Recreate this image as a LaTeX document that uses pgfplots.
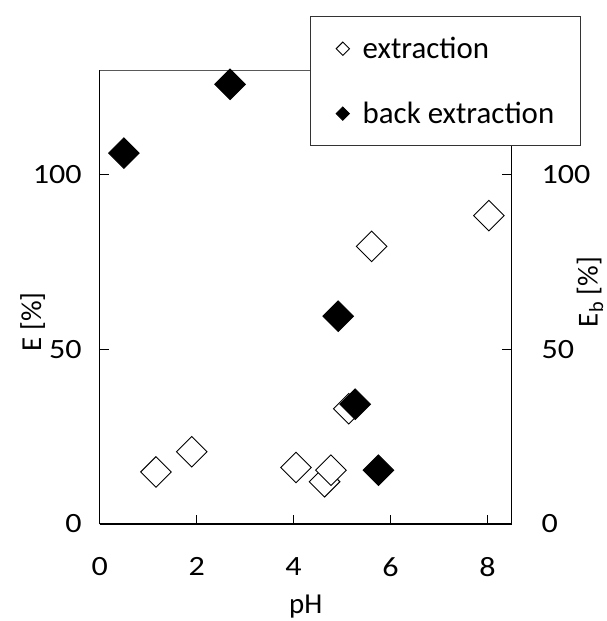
\documentclass[border=0pt]{standalone}
\usepackage{fontspec}
\setmainfont{Carlito}
\newfontfamily\tickfont[FakeStretch=1.15]{Carlito}
\usepackage{pgfplots}
\pgfplotsset{compat=1.18}
\begin{document}
\begin{tikzpicture}
\useasboundingbox (-99.7bp,-97bp) rectangle (507.3bp,524bp);
\pgfplotsset{
  common/.style={
    scale only axis, width=412bp, height=454bp,
    xmin=0, xmax=8.5, ymin=0, ymax=130,
    tick align=inside, major tick length=9.5bp,
    /pgf/number format/assume math mode=true,
    tick style={black, line width=0.9bp},
    axis line style={black, line width=1.3bp},
    ytick={0,50,100},
  }
}
\begin{axis}[common,
  at={(0,0)}, anchor=south west,
  axis x line*=bottom, axis y line*=left,
  xtick={0,2,4,6,8},
  ticklabel style={font=\tickfont\fontsize{28}{33}\selectfont},
  yticklabel style={xshift=-14.5bp},
  xticklabel style={yshift=-30bp},
  xlabel={pH}, ylabel={E [\%]},
  label style={font=\fontsize{29}{34}\selectfont},
  xlabel style={at={(axis description cs:0.5,0)}, anchor=center, yshift=-83bp},
  ylabel style={at={(axis description cs:-0.1626,0.445)}, anchor=center, rotate=0},
]
\draw[black!65, line width=0.8bp] (rel axis cs:0,1) -- (rel axis cs:1,1);
\end{axis}
\begin{axis}[common,
  at={(0,0)}, anchor=south west,
  axis x line=none, axis y line*=right,
  ticklabel style={font=\tickfont\fontsize{28}{33}\selectfont},
  yticklabel style={xshift=26.5bp},
  ylabel={E\textsubscript{b} [\%]},
  label style={font=\fontsize{29}{34}\selectfont},
  ylabel style={at={(axis description cs:1.19,0.511)}, anchor=center, rotate=0, inner sep=0pt},
  legend style={at={(axis description cs:0.5104,0.8326)}, anchor=south west,
    draw=black!80, line width=0.8bp, fill=white,
    font=\fontsize{31}{37}\selectfont,
    inner xsep=22bp, inner ysep=16.5bp, row sep=34bp,
    nodes={inner sep=4bp},
    /tikz/every odd column/.append style={column sep=5.5bp}},
  legend cell align=left,
  legend image code/.code={\path (0bp,0bp) (20bp,0bp); \draw[#1, mark size=4.7bp] plot coordinates {(10bp,0bp)};},
]
\addplot[only marks, mark=square*, mark size=10.8bp, mark options={rotate=45, draw=black, fill=white, line width=0.9bp}]
coordinates {
(1.16,14.9) (1.90,20.7) (4.05,16.2) (4.64,12.1) (4.77,15.4) (5.14,33.0) (5.61,79.5) (8.03,88.3)
};
\addlegendentry{extraction}
\addplot[only marks, mark=square*, mark size=10.8bp, mark options={rotate=45, draw=black, fill=black, line width=0.9bp}]
coordinates {
(0.50,106.2) (2.69,125.9) (4.92,59.5) (5.27,34.3) (5.75,15.4)
};
\addlegendentry{back extraction}
\end{axis}
\end{tikzpicture}
\end{document}
